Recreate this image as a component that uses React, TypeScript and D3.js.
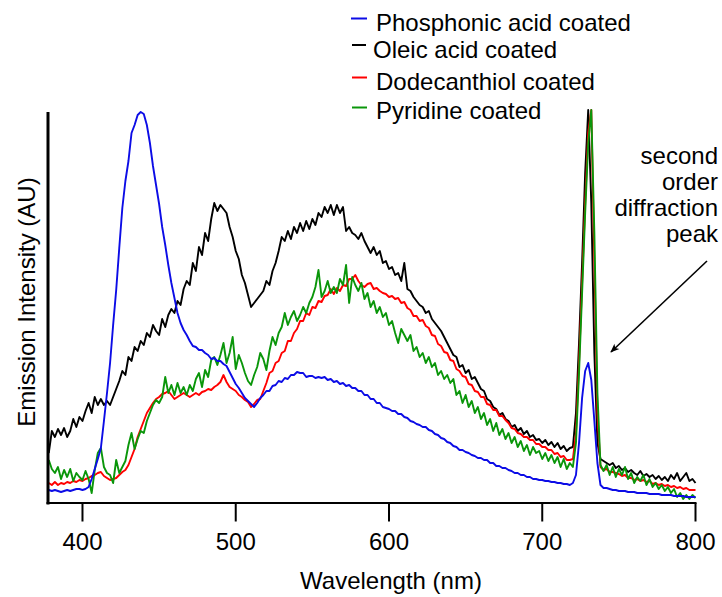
import React from "react";
import * as d3 from "d3";

// Wavelength grid: 378 nm to 800 nm, every 2 nm
const WL_START = 378;
const WL_STEP = 2;

const xTicks = [400, 500, 600, 700, 800];

const seriesNames = [
  "Phosphonic acid coated",
  "Oleic acid coated",
  "Dodecanthiol coated",
  "Pyridine coated",
];

const phosphonic = [
  13, 12, 13, 12, 11, 12, 13, 12, 13, 14,
  14, 13, 14, 16, 24, 34, 44, 55, 82, 110,
  140, 178, 213, 255, 295, 322, 342, 370, 378, 388,
  391, 389, 378, 360, 337, 318, 299, 276, 258, 238,
  220, 205, 190, 180, 173, 168, 162, 157, 156, 153,
  153, 150, 148, 144, 145, 142, 142, 139, 137, 131,
  125, 119, 115, 110, 105, 102, 99, 96, 100, 105,
  108, 112, 112, 117, 118, 122, 121, 125, 124, 128,
  128, 131, 130, 130, 126, 127, 127, 125, 126, 125,
  126, 123, 124, 121, 122, 119, 120, 117, 118, 115,
  115, 112, 112, 108, 108, 104, 104, 100, 100, 96,
  95, 94, 92, 92, 89, 89, 86, 85, 82, 81,
  79, 78, 76, 76, 73, 72, 69, 68, 65, 64,
  61, 60, 57, 56, 53, 53, 51, 50, 48, 47,
  45, 45, 43, 43, 40, 40, 37, 37, 35, 35,
  33, 32, 30, 30, 28, 28, 26, 26, 24, 24,
  23, 23, 22, 22, 21, 21, 20, 20, 19, 19,
  18, 20, 28, 60, 105, 132, 140, 123, 82, 40,
  18, 15, 15, 14, 13, 13, 12, 12, 12, 11,
  11, 11, 10, 10, 10, 10, 9, 9, 9, 9,
  8, 8, 8, 8, 7, 7, 7, 7, 6, 6,
  6, 6,
];

const oleic = [
  50, 72, 66, 74, 68, 75, 66, 72, 84, 76,
  86, 82, 92, 100, 90, 106, 98, 104, 98, 102,
  98, 106, 114, 122, 132, 128, 146, 142, 156, 152,
  162, 158, 170, 166, 178, 172, 168, 184, 176, 188,
  194, 190, 202, 198, 214, 222, 218, 240, 232, 256,
  248, 270, 262, 284, 300, 292, 298, 294, 290, 276,
  266, 252, 244, 228, 220, 208, 196, 200, 204, 208,
  212, 222, 218, 232, 240, 252, 266, 262, 272, 264,
  276, 270, 280, 272, 282, 274, 284, 278, 290, 286,
  296, 290, 298, 288, 298, 290, 296, 272, 276, 270,
  268, 264, 270, 262, 256, 250, 256, 248, 252, 240,
  242, 234, 236, 228, 230, 222, 240, 214, 212, 206,
  202, 198, 196, 190, 192, 184, 180, 176, 172, 166,
  160, 154, 148, 146, 136, 138, 130, 133, 124, 126,
  120, 114, 112, 104, 102, 96, 94, 88, 90, 84,
  82, 76, 78, 72, 75, 69, 72, 66, 68, 63,
  64, 60, 63, 58, 61, 56, 60, 54, 57, 52,
  55, 56, 90, 160, 240, 330, 393, 300, 150, 60,
  44, 42, 40, 38, 40, 35, 37, 33, 35, 31,
  33, 30, 28, 32, 27, 29, 26, 28, 24, 27,
  23, 26, 22, 28, 24, 30, 22, 26, 30, 22,
  24, 20,
];

const dodecanthiol = [
  20, 18, 21, 18, 20, 19, 21, 20, 22, 21,
  23, 22, 24, 25, 27, 28, 30, 31, 27, 25,
  23, 24, 25, 28, 31, 33, 38, 46, 54, 66,
  74, 82, 90, 95, 100, 104, 106, 109, 110, 112,
  108, 104, 106, 108, 110, 108, 106, 108, 110, 108,
  111, 112, 114, 113, 116, 118, 121, 128, 121, 116,
  114, 112, 108, 106, 103, 101, 96, 99, 103, 104,
  112, 120, 130, 132, 140, 142, 150, 152, 162, 162,
  170, 174, 182, 182, 190, 188, 196, 195, 202, 201,
  207, 208, 214, 209, 215, 212, 218, 217, 224, 224,
  228, 222, 218, 216, 219, 220, 214, 215, 212, 210,
  209, 206, 207, 204, 205, 200, 201, 195, 193, 187,
  187, 182, 183, 177, 175, 168, 167, 159, 157, 151,
  150, 143, 142, 134, 132, 127, 126, 119, 118, 112,
  111, 106, 106, 99, 98, 93, 93, 87, 87, 83,
  80, 75, 74, 70, 69, 66, 66, 63, 63, 59,
  59, 56, 56, 53, 53, 49, 50, 46, 47, 43,
  43, 44, 70, 140, 220, 300, 370, 393, 240, 90,
  36, 33, 34, 31, 31, 30, 29, 27, 28, 25,
  25, 23, 24, 22, 23, 21, 22, 19, 20, 18,
  19, 17, 18, 16, 17, 15, 16, 14, 15, 13,
  13, 13,
];

const pyridine = [
  43, 34, 30, 36, 24, 33, 26, 34, 22, 30,
  26, 23, 32, 24, 10, 33, 50, 55, 36, 30,
  28, 20, 43, 30, 36, 42, 58, 70, 54, 64,
  72, 70, 82, 90, 98, 103, 100, 106, 126, 110,
  118, 108, 120, 110, 116, 108, 118, 112, 124, 130,
  116, 133, 126, 143, 146, 138, 148, 160, 140, 150,
  166, 134, 148, 140, 130, 122, 118, 128, 136, 150,
  144, 133, 152, 166, 158, 170, 176, 190, 178, 186,
  192, 182, 188, 196, 190, 200, 206, 216, 233, 206,
  212, 222, 210, 216, 210, 224, 218, 238, 200, 226,
  218, 212, 220, 204, 210, 196, 202, 190, 196, 186,
  190, 178, 182, 170, 160, 174, 168, 162, 168, 152,
  156, 146, 150, 140, 146, 136, 140, 128, 132, 124,
  128, 120, 124, 108, 112, 100, 108, 96, 102, 90,
  96, 84, 90, 78, 84, 72, 80, 68, 74, 64,
  70, 60, 66, 56, 62, 52, 58, 48, 56, 50,
  52, 44, 50, 42, 48, 40, 46, 36, 44, 34,
  40, 36, 60, 130, 210, 290, 360, 393, 270, 110,
  38, 32, 38, 28, 36, 26, 34, 28, 36, 24,
  30, 20, 26, 22, 28, 18, 24, 16, 20, 14,
  18, 12, 16, 10, 14, 6, 10, 4, 8, 4,
  8, 5,
];

const seriesValues = [phosphonic, oleic, dodecanthiol, pyridine];
const seriesColors = ["#0c0ce6", "#000000", "#ff0000", "#0a960a"];
const drawOrder = [1, 2, 3, 0];

const annotationLines = ["second", "order", "diffraction", "peak"];

const W = 722;
const H = 597;
const FONT = "'Liberation Sans', Arial, Helvetica, sans-serif";

export default function App() {
  const x = d3.scaleLinear().domain([377.5, 800]).range([48, 695.5]);
  const y = d3.scaleLinear().domain([0, 392]).range([503, 111]);

  const line = d3
    .line<number>()
    .x((_, i) => x(WL_START + i * WL_STEP))
    .y((d) => y(d));

  const legendRows = [
    { base: 31, tx: 376, dy: 18.5, dx0: 351, dx1: 367 },
    { base: 57.5, tx: 373, dy: 45, dx0: 352, dx1: 366 },
    { base: 90, tx: 376, dy: 77.5, dx0: 352, dx1: 367 },
    { base: 118.5, tx: 376, dy: 107.5, dx0: 352, dx1: 367 },
  ];

  return (
    <svg
      width={W}
      height={H}
      style={{ position: "absolute", left: 0, top: 0, background: "#fff" }}
      fontFamily={FONT}
    >
      <defs>
        <marker
          id="arrowhead"
          viewBox="0 0 10 10"
          refX="9"
          refY="5"
          markerWidth="10"
          markerHeight="9"
          orient="auto"
          markerUnits="userSpaceOnUse"
        >
          <path d="M0,1 L10,5 L0,9 L2.5,5 Z" fill="#000" />
        </marker>
      </defs>

      {drawOrder.map((si) => (
        <path
          key={si}
          d={line(seriesValues[si]) || ""}
          fill="none"
          stroke={seriesColors[si]}
          strokeWidth={1.9}
          strokeLinejoin="round"
        />
      ))}

      {/* axes */}
      <line x1={48} x2={48} y1={y(391)} y2={y(0) + 1.5} stroke="#000" strokeWidth={3} />
      <line x1={46.5} x2={x(800) + 1} y1={y(0)} y2={y(0)} stroke="#000" strokeWidth={2.2} />
      {xTicks.map((t) => (
        <g key={t}>
          <line x1={x(t)} x2={x(t)} y1={y(0)} y2={y(0) + 18.5} stroke="#000" strokeWidth={2} />
          <text x={x(t)} y={550} textAnchor="middle" fontSize={24} fill="#000">
            {t}
          </text>
        </g>
      ))}
      <text x={391} y={589} textAnchor="middle" fontSize={24} fill="#000">
        Wavelength (nm)
      </text>
      <text
        transform={`translate(35, 302) rotate(-90)`}
        textAnchor="middle"
        fontSize={24}
        fill="#000"
      >
        Emission Intensity (AU)
      </text>

      {/* legend */}
      {seriesNames.map((name, i) => (
        <g key={name}>
          <line
            x1={legendRows[i].dx0}
            x2={legendRows[i].dx1}
            y1={legendRows[i].dy}
            y2={legendRows[i].dy}
            stroke={seriesColors[i]}
            strokeWidth={2}
          />
          <text x={legendRows[i].tx} y={legendRows[i].base} fontSize={24} fill="#000">
            {name}
          </text>
        </g>
      ))}

      {/* annotation */}
      {annotationLines.map((s, i) => (
        <text key={s} x={718} y={163.5 + i * 26.2} textAnchor="end" fontSize={24} fill="#000">
          {s}
        </text>
      ))}
      <line
        x1={707}
        y1={261}
        x2={611}
        y2={352}
        stroke="#000"
        strokeWidth={1.6}
        markerEnd="url(#arrowhead)"
      />
    </svg>
  );
}
